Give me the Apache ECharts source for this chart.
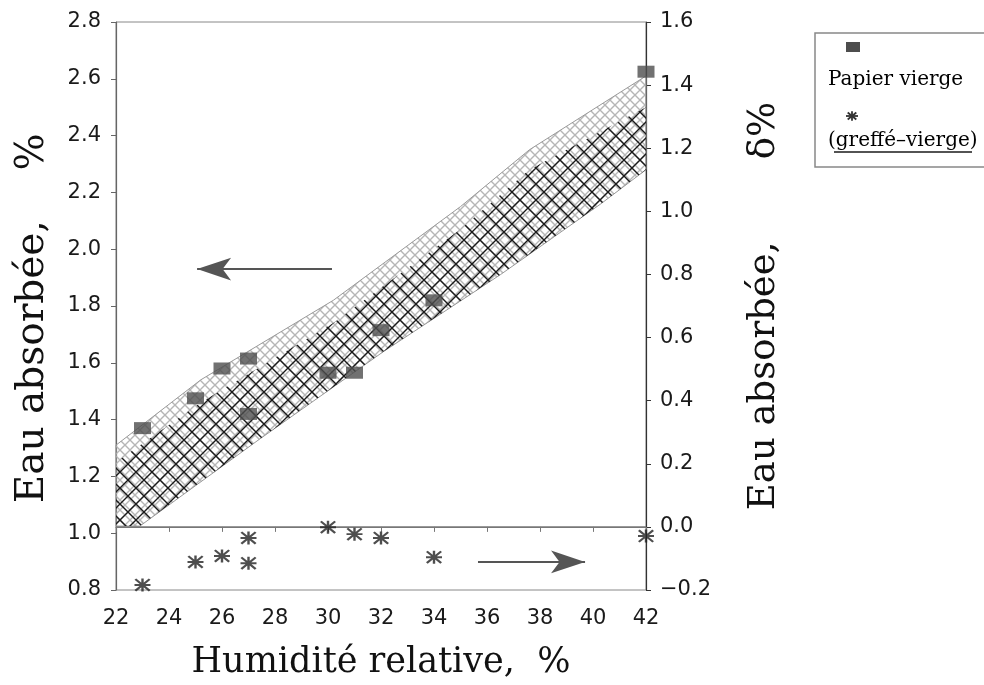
<!DOCTYPE html>
<html>
<head>
<meta charset="utf-8">
<script src="https://cdn.jsdelivr.net/npm/echarts@6/dist/echarts.min.js"></script>
<style>
  html, body { margin: 0; background: #fff; }
  #main { width: 984px; height: 685px; }
</style>
</head>
<body>
<div id="main"></div>
<script>
// humidite relative, %
var humidite = [23, 25, 26, 27, 27, 30, 31, 32, 34, 42];
// eau absorbee, papier vierge (axe gauche, %)
var papierVierge = [1.37, 1.475, 1.58, 1.615, 1.42, 1.565, 1.565, 1.715, 1.82, 2.625];
// delta %, greffe - vierge (axe droit)
var greffeVierge = [-0.184, -0.111, -0.092, -0.035, -0.115, -0.001, -0.023, -0.035, -0.096, -0.029];

// zone hachuree (axe gauche)
var bandeHautX = [22, 25.2, 30.2, 35.0, 37.6, 42];
var bandeHautY = [1.31, 1.54, 1.82, 2.15, 2.35, 2.61];
var bandeNoireHautY = [1.25, 1.46, 1.74, 2.07, 2.28, 2.50];
var bandeBasX = [22, 22.9, 27.4, 32.1, 36.5, 40.3, 42];
var bandeBasY = [1.025, 1.025, 1.33, 1.64, 1.91, 2.16, 2.28];

// fleches (x de la queue, x de la pointe)
var flecheGaucheX = [30.15, 25.06];
var flecheGaucheY = 1.93;
var flecheDroiteX = [35.66, 39.70];
var flecheDroiteY = -0.111;

var xTicks = [22, 24, 26, 28, 30, 32, 34, 36, 38, 40, 42];
var yTicksGauche = [0.8, 1.0, 1.2, 1.4, 1.6, 1.8, 2.0, 2.2, 2.4, 2.6, 2.8];
var yTicksDroite = [-0.2, 0.0, 0.2, 0.4, 0.6, 0.8, 1.0, 1.2, 1.4, 1.6];

var asterisque = 'path://M0,8.5L20,8.5L20,11.5L0,11.5Z M8.5,0L11.5,0L11.5,20L8.5,20Z M2.1,0L20,17.9L17.9,20L0,2.1Z M17.9,0L20,2.1L2.1,20L0,17.9Z';

function hachure(size, color, width) {
  var c = document.createElement('canvas');
  c.width = size; c.height = size;
  var ctx = c.getContext('2d');
  ctx.strokeStyle = color;
  ctx.lineWidth = width;
  ctx.beginPath();
  ctx.moveTo(-1, -1); ctx.lineTo(size + 1, size + 1);
  ctx.moveTo(size + 1, -1); ctx.lineTo(-1, size + 1);
  ctx.stroke();
  return c;
}
var motifGris = hachure(10, '#b6b6b6', 1.4);
var motifNoir = hachure(16, '#1a1a1a', 1.4);

function bande(hautY, fill, stroke) {
  return function (params, api) {
    var pts = [];
    bandeHautX.forEach(function (x, i) { pts.push(api.coord([x, hautY[i]])); });
    for (var i = bandeBasX.length - 1; i >= 0; i--) {
      pts.push(api.coord([bandeBasX[i], bandeBasY[i]]));
    }
    return {
      type: 'polygon',
      shape: { points: pts },
      style: { fill: fill, stroke: stroke, lineWidth: 1 }
    };
  };
}

var pairs = function (xs, ys) { return xs.map(function (x, i) { return [x, ys[i]]; }); };
var fmt = function (v) { return v < 0 ? '\u2212' + (-v).toFixed(1) : v.toFixed(1); };

var tickFont = { fontFamily: 'DejaVu Sans', fontSize: 21, color: '#1a1a1a' };

// petit asterisque de la legende
function asterisqueLegende(cx, cy, r) {
  var d = r * 0.72;
  return [[-r, 0, r, 0], [0, -r * 0.8, 0, r * 0.8], [-d, -d * 0.8, d, d * 0.8], [-d, d * 0.8, d, -d * 0.8]].map(function (s) {
    return { type: 'line', shape: { x1: cx + s[0], y1: cy + s[1], x2: cx + s[2], y2: cy + s[3] }, style: { stroke: '#333', lineWidth: 1.8 } };
  });
}

var chart = echarts.init(document.getElementById('main'));
var option = {
  backgroundColor: '#fff',
  animation: false,
  grid: { left: 116, right: 338, top: 22, bottom: 94, show: true, borderColor: '#888', borderWidth: 1 },
  xAxis: {
    type: 'value',
    min: xTicks[0], max: xTicks[xTicks.length - 1], interval: xTicks[1] - xTicks[0],
    name: 'Humidit\u00e9 relative,  %',
    nameLocation: 'middle', nameGap: 55,
    nameTextStyle: { fontFamily: 'DejaVu Serif', fontSize: 35, color: '#111' },
    axisLine: { lineStyle: { color: '#777', width: 1.2 } },
    axisTick: { length: 5, lineStyle: { color: '#777' } },
    axisLabel: Object.assign({ margin: 18 }, tickFont),
    splitLine: { show: false }
  },
  yAxis: [{
    type: 'value', position: 'left',
    min: yTicksGauche[0], max: yTicksGauche[yTicksGauche.length - 1], interval: 0.2,
    name: 'Eau absorb\u00e9e,    %  ',
    nameLocation: 'middle', nameRotate: 90, nameGap: 64,
    nameTextStyle: { fontFamily: 'DejaVu Serif', fontSize: 39, color: '#111' },
    axisLine: { show: true, lineStyle: { color: '#666', width: 1.2 } },
    axisTick: { show: true, length: 5, lineStyle: { color: '#666' } },
    axisLabel: Object.assign({ margin: 15, formatter: fmt }, tickFont),
    splitLine: { show: false }
  }, {
    type: 'value', position: 'right',
    min: yTicksDroite[0], max: yTicksDroite[yTicksDroite.length - 1], interval: 0.2,
    name: 'Eau absorb\u00e9e,       \u03b4%',
    nameLocation: 'middle', nameRotate: 90, nameGap: 100,
    nameTextStyle: { fontFamily: 'DejaVu Serif', fontSize: 37, color: '#111' },
    axisLine: { show: true, lineStyle: { color: '#333', width: 1.2 } },
    axisTick: { show: true, length: 5, lineStyle: { color: '#333' } },
    axisLabel: Object.assign({ margin: 14, formatter: fmt }, tickFont),
    splitLine: { show: false }
  }],
  series: [{
    type: 'custom', yAxisIndex: 0, silent: true, z: 1,
    data: [[bandeHautX[0], bandeHautY[0]]],
    renderItem: bande(bandeHautY, { image: motifGris, repeat: 'repeat' }, '#999')
  }, {
    type: 'custom', yAxisIndex: 0, silent: true, z: 2,
    data: [[bandeHautX[0], bandeNoireHautY[0]]],
    renderItem: bande(bandeNoireHautY, { image: motifNoir, repeat: 'repeat' }, 'rgba(0,0,0,0)')
  }, {
    name: 'Papier vierge', type: 'scatter', yAxisIndex: 0, z: 5,
    symbol: 'rect', symbolSize: [17, 12],
    itemStyle: { color: '#4d4d4d' },
    data: pairs(humidite, papierVierge),
    markLine: {
      silent: true, symbol: ['none', 'arrow'], symbolSize: [17, 34],
      label: { show: false },
      lineStyle: { color: '#555', width: 2, type: 'solid' },
      data: [[{ coord: [flecheGaucheX[0], flecheGaucheY] }, { coord: [flecheGaucheX[1], flecheGaucheY] }]]
    }
  }, {
    name: '(greff\u00e9\u2013vierge)', type: 'scatter', yAxisIndex: 1, z: 5,
    symbol: asterisque, symbolSize: [16, 13], symbolKeepAspect: false,
    itemStyle: { color: '#222' },
    data: pairs(humidite, greffeVierge),
    markLine: {
      silent: true, symbol: 'none',
      label: { show: false },
      lineStyle: { color: '#777', width: 1.5, type: 'solid' },
      data: [
        { yAxis: 0 },
        [{ coord: [flecheDroiteX[0], flecheDroiteY], symbol: 'none', lineStyle: { color: '#555', width: 2 } },
         { coord: [flecheDroiteX[1], flecheDroiteY], symbol: 'arrow', symbolSize: [17, 34] }]
      ]
    }
  }],
  graphic: [
    { type: 'rect', shape: { x: 815, y: 33, width: 180, height: 134 }, style: { fill: '#fff', stroke: '#888', lineWidth: 1.5 }, z: 0 },
    { type: 'rect', shape: { x: 846, y: 42, width: 14, height: 10 }, style: { fill: '#4d4d4d' } },
    { type: 'text', x: 828, y: 70, style: { text: 'Papier vierge', font: '20px "DejaVu Serif"', fill: '#000' } },
    { type: 'text', x: 828, y: 131, style: { text: '(greff\u00e9\u2013vierge)', font: '20px "DejaVu Serif"', fill: '#000' } },
    { type: 'line', shape: { x1: 834, y1: 152, x2: 972, y2: 152 }, style: { stroke: '#1a1a1a', lineWidth: 1.5 } }
  ].concat(asterisqueLegende(852, 116, 6))
};
chart.setOption(option);
</script>
</body>
</html>
